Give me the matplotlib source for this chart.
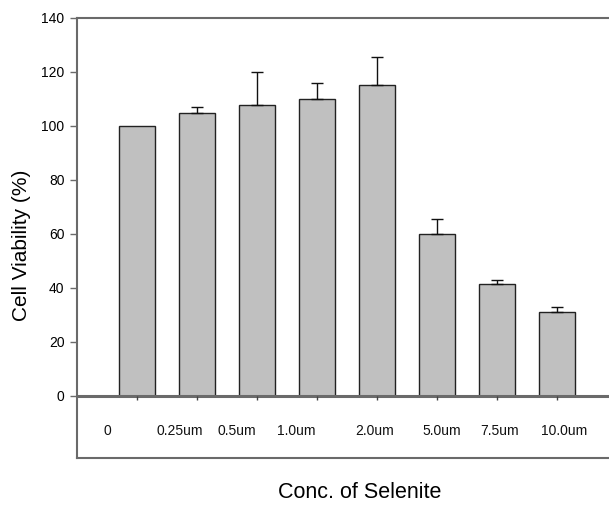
import matplotlib
matplotlib.use("Agg")
import matplotlib.pyplot as plt
import numpy as np

plt.rcParams['font.family'] = ['Liberation Sans', 'DejaVu Sans']

categories = ["0", "0.25um", "0.5um", "1.0um", "2.0um", "5.0um", "7.5um", "10.0um"]
viability = [100.0, 104.7, 107.7, 109.9, 115.3, 59.9, 41.6, 31.0]
err_upper = [0.0, 2.2, 12.4, 6.0, 10.4, 5.5, 1.5, 2.0]
yticks = [0, 20, 40, 60, 80, 100, 120, 140]

# layout: label positions (data x) of the category text in the lower box
label_x = [0.50, 1.71, 2.67, 3.65, 4.97, 6.08, 7.05, 8.12]

fig = plt.figure(figsize=(6.09, 5.11), dpi=100)
ax = fig.add_axes([77/609, (511-458.3)/511, 1 - 77/609, (458.3-18)/511])

x = np.arange(1, len(viability) + 1)
vals = np.array(viability)
errs = np.array(err_upper)
ax.bar(x, vals, width=0.6, color='#c0c0c0', edgecolor='#222222', linewidth=1.0, zorder=2)
m = errs > 0
ax.errorbar(x[m], vals[m], yerr=[np.zeros(m.sum()), errs[m]], fmt='none',
            ecolor='#111111', elinewidth=1.0, capsize=4, capthick=1.0, zorder=3)

ax.axhline(0, color='#6a6a6a', linewidth=2.2, zorder=4)
ax.plot(x, np.zeros(len(x)), linestyle='none', marker=3, markersize=3,
        color='#444444', markeredgewidth=1.0, zorder=5)

for lx, lab in zip(label_x, categories):
    ax.text(lx, -13.0, lab, ha='center', va='center', fontsize=10, color='#111111')

ax.set_xlim(0, 8.875)
ax.set_ylim(-23.1, 140)
ax.set_yticks(yticks)
ax.set_yticklabels([str(v) for v in yticks], fontsize=10)
ax.set_xticks([])
ax.tick_params(axis='y', direction='out', length=5, width=1.0, color='#6a6a6a', pad=4)

for s in ['left', 'top', 'bottom']:
    ax.spines[s].set_color('#6a6a6a')
    ax.spines[s].set_linewidth(1.5)
ax.spines['right'].set_visible(False)

fig.text(22/609, 1 - 245/511, "Cell Viability (%)", rotation=90, ha='center', va='center', fontsize=15)
fig.text(360/609, 1 - 492/511, "Conc. of Selenite", ha='center', va='center', fontsize=15.5)

fig.savefig("out.png", dpi=100)
